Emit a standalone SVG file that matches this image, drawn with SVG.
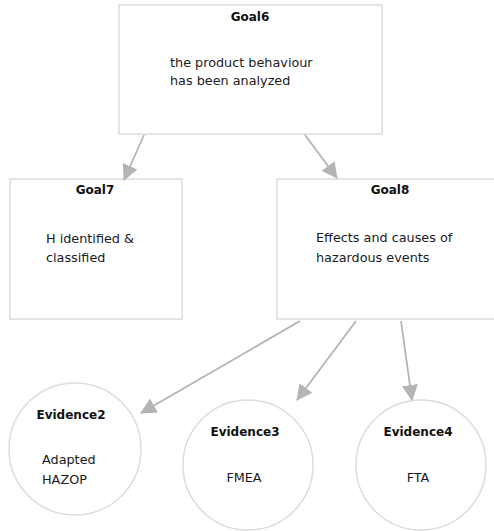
<svg xmlns="http://www.w3.org/2000/svg" width="494" height="531" viewBox="0 0 494 531">
<style>
.box{fill:#fff;stroke:#dcdcdc;stroke-width:1.5}
.title{font-family:"DejaVu Sans",sans-serif;font-size:12px;font-weight:bold;fill:#111;text-anchor:middle}
.body{font-family:"DejaVu Sans",sans-serif;font-size:12.8px;fill:#1a1a1a}
.mid{text-anchor:middle}
.edge{stroke:#b4b4b4;stroke-width:1.8;fill:none;marker-end:url(#arr)}
</style>
<defs>
<marker id="arr" viewBox="0 0 16 16" refX="15" refY="8" markerWidth="16" markerHeight="16" markerUnits="userSpaceOnUse" orient="auto">
<path d="M0,0 L16,8 L0,16 z" fill="#b4b4b4"/>
</marker>
</defs>
<rect width="494" height="531" fill="#fff"/>
<g id="Goal6">
<rect class="box" x="119" y="5" width="263" height="129"/>
<text class="title" x="250" y="21">Goal6</text>
<text class="body" x="170" y="67">the product behaviour</text>
<text class="body" x="170" y="85">has been analyzed</text>
</g>
<g id="Goal7">
<rect class="box" x="10" y="179" width="172" height="140"/>
<text class="title" x="95" y="194">Goal7</text>
<text class="body" x="46" y="243">H identified &amp;</text>
<text class="body" x="46" y="262">classified</text>
</g>
<g id="Goal8">
<rect class="box" x="277" y="179" width="230" height="140"/>
<text class="title" x="390" y="194">Goal8</text>
<text class="body" x="316" y="242">Effects and causes of</text>
<text class="body" x="316" y="262">hazardous events</text>
</g>
<g id="Evidence2">
<circle class="box" cx="75" cy="449" r="66"/>
<text class="title" x="71" y="419">Evidence2</text>
<text class="body" x="42" y="464">Adapted</text>
<text class="body" x="42" y="484">HAZOP</text>
</g>
<g id="Evidence3">
<circle class="box" cx="248" cy="465" r="65"/>
<text class="title" x="245" y="436">Evidence3</text>
<text class="body mid" x="244" y="482">FMEA</text>
</g>
<g id="Evidence4">
<circle class="box" cx="421" cy="465" r="65"/>
<text class="title" x="418" y="436">Evidence4</text>
<text class="body mid" x="418" y="482">FTA</text>
</g>
<g id="connectors">
<line class="edge" x1="144" y1="135" x2="124" y2="180"/>
<line class="edge" x1="305" y1="135" x2="337" y2="178"/>
<line class="edge" x1="300" y1="321" x2="141" y2="413"/>
<line class="edge" x1="356" y1="321" x2="297" y2="400"/>
<line class="edge" x1="401" y1="321" x2="412" y2="400"/>
</g>
</svg>
